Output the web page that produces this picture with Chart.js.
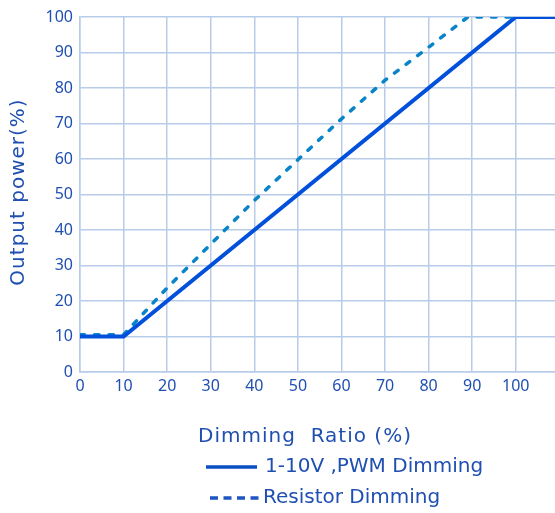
<!DOCTYPE html>
<html><head><meta charset="utf-8">
<script src="https://cdn.jsdelivr.net/npm/chart.js@4"></script>
<style>html,body{margin:0;padding:0;background:#fff}#wrap{width:555px;height:513px}</style>
</head><body><div id="wrap"><canvas id="c"></canvas></div>
<script>
const xTicks = [0,10,20,30,40,50,60,70,80,90,100];
const yTicks = [0,10,20,30,40,50,60,70,80,90,100];
const pwmX = [0,10,100,109];
const pwmY = [10,10,100,100];
const resX = [0,10,20,30,40,50,60,70,80,89,109];
const resY = [10.5,10.5,23.7,36,48.3,59.8,71.3,82.2,91.5,100,100];
const seriesNames = ["1-10V ,PWM Dimming","Resistor Dimming"];
const xTitle = "Dimming  Ratio (%)";
const yTitle = "Output power(%)";
const FONT = "'Noto Sans', sans-serif";
const TFONT = "'DejaVu Sans', sans-serif";
const TXT = "#1f4fb0";

const annotPlugin = {
  id:'titlesLegend',
  afterDraw(chart){
    const ctx = chart.ctx;
    const items = chart.data.datasets;
    ctx.save();
    ctx.fillStyle = TXT;
    ctx.font = "20px " + TFONT;
    ctx.letterSpacing = "1px";
    ctx.textAlign = "center";
    ctx.textBaseline = "middle";
    ctx.fillText(xTitle, 305, 437);
    ctx.save();
    ctx.translate(19, 192);
    ctx.rotate(-Math.PI/2);
    ctx.fillText(yTitle, 0, 0);
    ctx.restore();
    ctx.letterSpacing = "0px";
    ctx.textAlign = "left";
    const rows = [467, 498];
    items.forEach((ds,i)=>{
      const y = rows[i];
      ctx.strokeStyle = i===1 ? "#1f55c0" : "#0a4fc4";
      ctx.lineWidth = 3.5;
      ctx.setLineDash(i===1 ? [8,5.5] : []);
      ctx.beginPath();
      ctx.moveTo(i===1?210:206, y);
      ctx.lineTo(i===1?259:257, y);
      ctx.stroke();
      ctx.setLineDash([]);
      ctx.fillStyle = TXT;
      ctx.fillText(ds.label, i===1?263:265, y);
    });
    ctx.restore();
  }
};

new Chart(document.getElementById('c'), {
  type:'line',
  data:{datasets:[
    {label:seriesNames[0], data:pwmX.map((x,i)=>({x, y:pwmY[i]})), borderColor:'#0050dc', borderWidth:4, pointRadius:0, tension:0, order:1},
    {label:seriesNames[1], data:resX.map((x,i)=>({x, y:resY[i]})), borderColor:'#0a84c8', borderWidth:3.5, borderDash:[4.5,10], borderCapStyle:'round', pointRadius:0, tension:0, order:2}
  ]},
  options:{
    responsive:true, maintainAspectRatio:false, animation:false,
    layout:{padding:{top:17,right:0,bottom:0,left:0}},
    plugins:{legend:{display:false}, tooltip:{enabled:false}},
    scales:{
      x:{type:'linear', min:0, max:109,
        afterBuildTicks(s){ s.ticks = xTicks.map(v=>({value:v})); },
        afterFit(s){ s.height = 141; },
        grid:{color:'#b8cbe8', lineWidth:1.5, drawTicks:false},
        border:{color:'#b8cbe8', width:1.5},
        ticks:{color:TXT, font:{family:FONT,size:16}, padding:5, maxRotation:0},
        title:{display:false}
      },
      y:{type:'linear', min:0, max:100,
        afterBuildTicks(s){ s.ticks = yTicks.map(v=>({value:v})); },
        afterFit(s){ s.width = 80; },
        grid:{color:'#b8cbe8', lineWidth:1.5, drawTicks:false},
        border:{color:'#b8cbe8', width:1.5},
        ticks:{color:TXT, font:{family:FONT,size:16}, padding:7},
        title:{display:false}
      }
    }
  },
  plugins:[annotPlugin]
});
</script></body></html>
